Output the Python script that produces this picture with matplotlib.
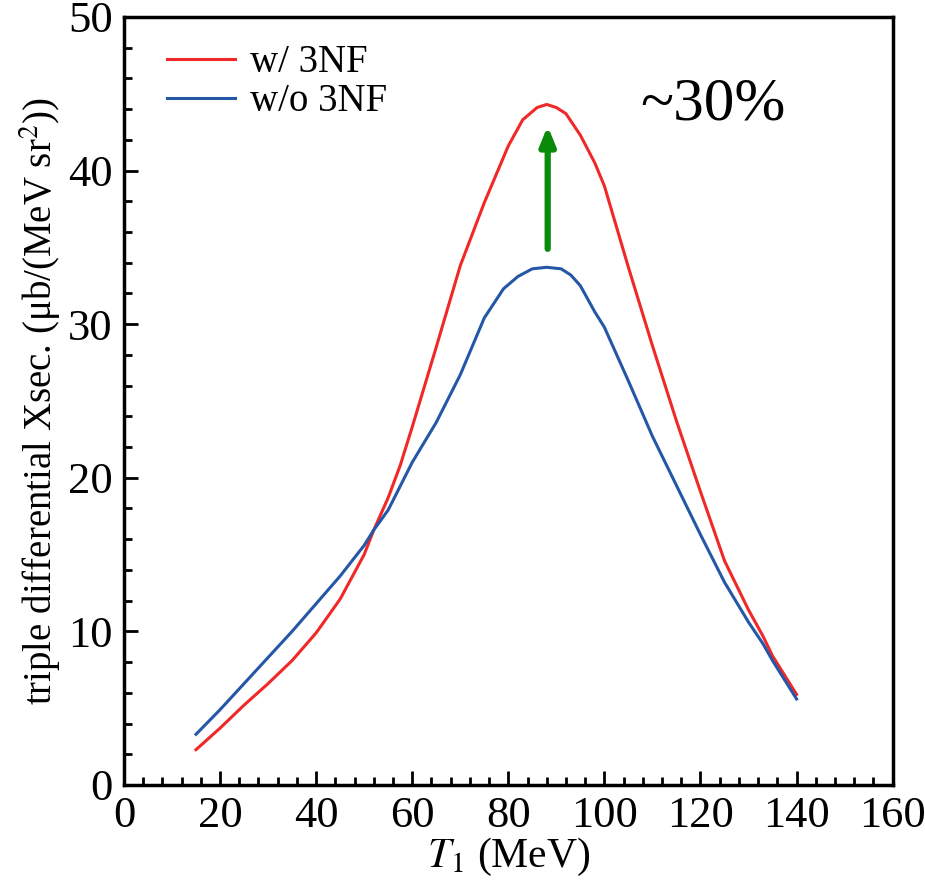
import matplotlib.pyplot as plt
from matplotlib.ticker import MultipleLocator

plt.rcParams["font.family"] = ["Liberation Serif", "DejaVu Serif"]
plt.rcParams["mathtext.fontset"] = "stix"

# values
t1_red = [15, 20, 25, 30, 35, 40, 45, 50, 52, 55, 57.5, 60, 65, 70, 75, 80,
          83, 86, 88, 90, 92, 95, 98, 100, 105, 110, 115, 120, 125, 130, 133,
          135, 140]
with_3nf = [2.3, 3.7, 5.2, 6.6, 8.1, 9.9, 12.1, 15.0, 16.6, 18.7, 20.8, 23.3,
            28.5, 33.8, 37.9, 41.6, 43.3, 44.1, 44.3, 44.1, 43.7, 42.3, 40.5,
            39.0, 33.7, 28.6, 23.7, 19.1, 14.6, 11.4, 9.7, 8.4, 5.9]

t1_blue = [15, 20, 25, 30, 35, 40, 45, 50, 52, 55, 60, 65, 70, 75, 79, 82,
           85, 88, 91, 93, 95, 98, 100, 105, 110, 115, 120, 125, 130, 133,
           135, 140]
without_3nf = [3.3, 4.9, 6.6, 8.3, 10.0, 11.8, 13.6, 15.6, 16.6, 17.9, 21.0,
               23.6, 26.7, 30.4, 32.3, 33.1, 33.6, 33.7, 33.6, 33.2, 32.5,
               30.8, 29.8, 26.3, 22.7, 19.5, 16.3, 13.2, 10.6, 9.2, 8.1, 5.6]

arrow_x = 88.2
arrow_from = 34.9
arrow_to = 42.9

fig = plt.figure(figsize=(9.25, 8.89), dpi=100)
ax = fig.add_axes([0.134, 0.117, 0.831, 0.864])

ax.plot(t1_red, with_3nf, color="#f02828", lw=2.2, label="w/ 3NF")
ax.plot(t1_blue, without_3nf, color="#2557a7", lw=2.2, label="w/o 3NF")

ax.annotate("", xy=(arrow_x, arrow_to), xytext=(arrow_x, arrow_from),
            arrowprops=dict(arrowstyle="-|>,head_length=1.1,head_width=0.45",
                            color="#0a8a0a", lw=4.5, shrinkA=0, shrinkB=0))
ax.text(107.5, 44.3, "~30%", fontsize=44, ha="left", va="center")

ax.set_xlim(0, 160)
ax.set_ylim(0, 50)
ax.xaxis.set_major_locator(MultipleLocator(20))
ax.xaxis.set_minor_locator(MultipleLocator(4))
ax.yaxis.set_major_locator(MultipleLocator(10))
ax.yaxis.set_minor_locator(MultipleLocator(2))
ax.tick_params(which="both", direction="in", top=False, right=False,
               width=2, labelsize=32, pad=8)
ax.tick_params(which="major", length=10)
ax.tick_params(which="minor", length=6)
for s in ax.spines.values():
    s.set_linewidth(2.5)

ax.set_xlabel(r"$T_1$ (MeV)", fontsize=30, labelpad=0)
ax.set_ylabel(r"triple differential Xsec. (μb/(MeV sr$^2$))", fontsize=28,
              labelpad=4)

ax.legend(loc="upper left", fontsize=28, frameon=False, handlelength=1.75,
          handletextpad=0.4, bbox_to_anchor=(0.01, 1.01), labelspacing=0.05)

fig.savefig("out.png", dpi=100)
